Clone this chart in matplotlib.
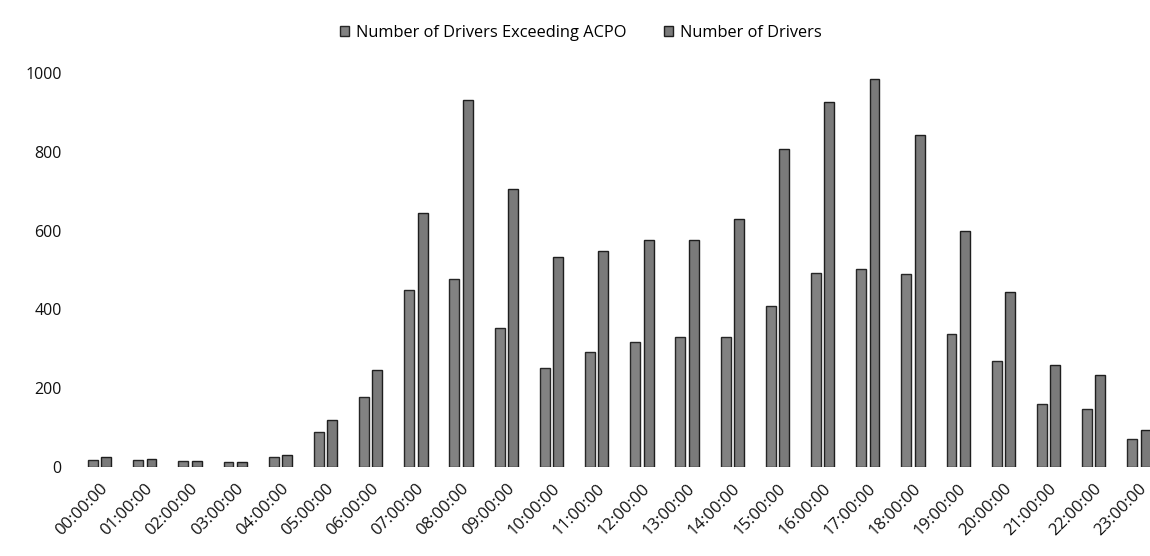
import numpy as np
import matplotlib.pyplot as plt

plt.rcParams['font.family'] = ['Open Sans', 'DejaVu Sans']

horas = ['00:00:00', '01:00:00', '02:00:00', '03:00:00', '04:00:00', '05:00:00',
         '06:00:00', '07:00:00', '08:00:00', '09:00:00', '10:00:00', '11:00:00',
         '12:00:00', '13:00:00', '14:00:00', '15:00:00', '16:00:00', '17:00:00',
         '18:00:00', '19:00:00', '20:00:00', '21:00:00', '22:00:00', '23:00:00']

excedendo_acpo = [18, 17, 15, 14, 25, 90, 178, 450, 478, 352, 252, 293,
                  316, 330, 330, 408, 492, 503, 490, 338, 270, 160, 148, 70]

motoristas = [26, 21, 15, 14, 30, 120, 245, 645, 932, 705, 533, 547,
              577, 577, 630, 808, 925, 985, 843, 598, 443, 260, 234, 95]

fig = plt.figure(figsize=(11.5, 5.56), dpi=100)
# eixo passa um pouco da borda direita, o ultimo grupo fica cortado
ax = fig.add_axes([0.067, 0.16, 0.943, 0.709])

x = np.arange(len(horas))
largura = 0.22
desloc = 0.148

ax.bar(x - desloc, excedendo_acpo, largura, color='#828282', edgecolor='#262626',
       linewidth=1.0, label='Number of Drivers Exceeding ACPO')
ax.bar(x + desloc, motoristas, largura, color='#7a7a7a', edgecolor='#1e1e1e',
       linewidth=1.0, label='Number of Drivers')

ax.set_xlim(-0.5, len(horas) - 0.5)
ax.set_ylim(0, 1000)
ax.set_yticks([0, 200, 400, 600, 800, 1000])
ax.set_xticks(x)
ax.set_xticklabels(horas, rotation=45, ha='right', rotation_mode='anchor')

ax.tick_params(axis='both', length=0, colors='#111111')
ax.tick_params(axis='y', pad=11, labelsize=11.5)
ax.tick_params(axis='x', pad=10, labelsize=12)
for s in ax.spines.values():
    s.set_visible(False)

fig.legend(loc='upper center', bbox_to_anchor=(0.505, 0.982), ncol=2, frameon=False,
           fontsize=11.8, handlelength=0.55, handleheight=0.55, handletextpad=0.4,
           columnspacing=2.3)

plt.savefig('out.png', dpi=100)
